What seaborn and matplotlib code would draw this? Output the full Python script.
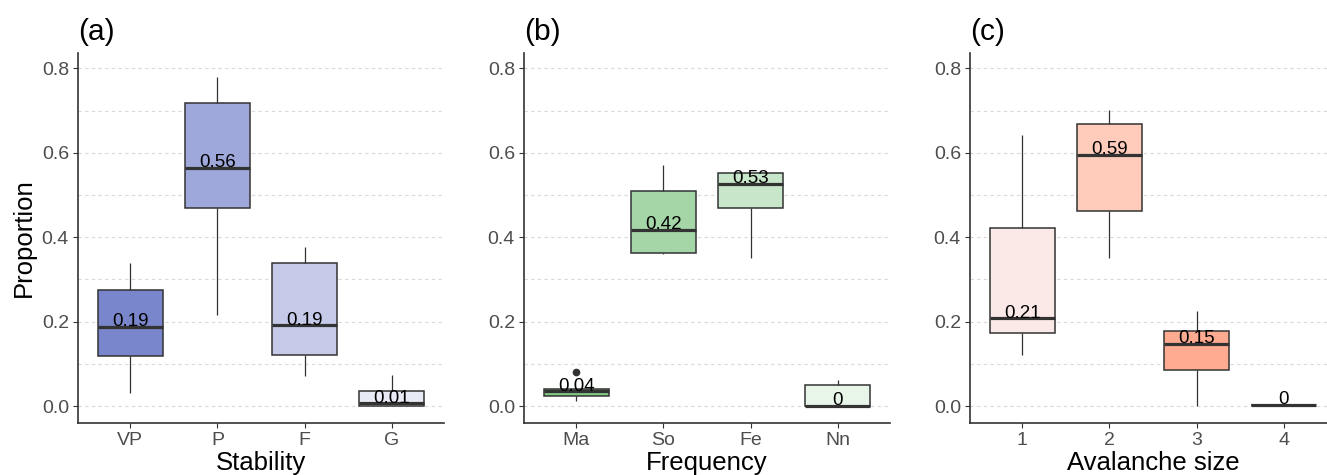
import numpy as np
import pandas as pd
import seaborn as sns
import matplotlib.pyplot as plt
from matplotlib.ticker import FixedLocator

sns.set_theme(style='white')
plt.rcParams['font.family'] = ['Liberation Sans', 'DejaVu Sans']

# ---- data: five observations per box (low, q1, median, q3, high) ----
stab_cats = ['VP', 'P', 'F', 'G']
stab_low = [0.030, 0.216, 0.071, 0.000]
stab_q1 = [0.118, 0.468, 0.122, 0.000]
stab_med = [0.187, 0.565, 0.191, 0.006]
stab_q3 = [0.274, 0.719, 0.340, 0.036]
stab_high = [0.338, 0.779, 0.376, 0.073]
stab_colors = ['#7986CB', '#9FA8DA', '#C5CAE9', '#E8EAF6']

freq_cats = ['Ma', 'So', 'Fe', 'Nn']
freq_low = [0.011, 0.359, 0.350, 0.000]
freq_q1 = [0.024, 0.363, 0.468, 0.000]
freq_med = [0.035, 0.418, 0.527, 0.000]
freq_q3 = [0.041, 0.509, 0.553, 0.049]
freq_high = [0.080, 0.570, 0.553, 0.062]
freq_colors = ['#81C784', '#A5D6A7', '#C8E6C9', '#E8F5E9']

size_cats = ['1', '2', '3', '4']
size_low = [0.122, 0.350, 0.000, 0.002]
size_q1 = [0.174, 0.463, 0.086, 0.002]
size_med = [0.208, 0.595, 0.147, 0.002]
size_q3 = [0.421, 0.667, 0.178, 0.002]
size_high = [0.643, 0.701, 0.225, 0.002]
size_colors = ['#FBE9E7', '#FFCCBC', '#FFAB91', '#FF8A65']

panels = [
    ('(a)', 'Stability', stab_cats, [stab_low, stab_q1, stab_med, stab_q3, stab_high], stab_colors),
    ('(b)', 'Frequency', freq_cats, [freq_low, freq_q1, freq_med, freq_q3, freq_high], freq_colors),
    ('(c)', 'Avalanche size', size_cats, [size_low, size_q1, size_med, size_q3, size_high], size_colors),
]

W, H = 1327, 475
fig = plt.figure(figsize=(W / 100, H / 100), dpi=100)
lefts = [78, 524, 970]
ax_w = 366
ax_top, ax_bot = 52.7, 422.7

edge = '#333333'
for (tag, xlabel, cats, stats, colors), lpx in zip(panels, lefts):
    ax = fig.add_axes([lpx / W, 1 - ax_bot / H, ax_w / W, (ax_bot - ax_top) / H])
    rows = []
    for i, c in enumerate(cats):
        for s in stats:
            rows.append({'cat': c, 'val': s[i]})
    df = pd.DataFrame(rows)
    ax.set_axisbelow(True)
    sns.boxplot(data=df, x='cat', y='val', hue='cat', order=cats, hue_order=cats,
                palette=colors, saturation=1, width=0.75, linewidth=1.1, linecolor=edge,
                showcaps=False, legend=False, ax=ax,
                medianprops=dict(color=edge, linewidth=2.3),
                whiskerprops=dict(color=edge, linewidth=0.9),
                flierprops=dict(marker='o', markerfacecolor=edge, markeredgecolor=edge,
                                markersize=4.5))
    meds = stats[2]
    for i, m in enumerate(meds):
        lab = f'{round(m, 2):g}'
        ax.annotate(lab, (i, m), xytext=(0, 0.5), textcoords='offset points',
                    ha='center', va='baseline', fontsize=13.5, color='black')
    ax.set_xlim(-0.6, 3.6)
    ax.set_ylim(-0.0395, 0.837)
    ax.yaxis.set_major_locator(FixedLocator([0, 0.2, 0.4, 0.6, 0.8]))
    ax.yaxis.set_minor_locator(FixedLocator([0.1, 0.3, 0.5, 0.7]))
    ax.set_yticklabels(['0.0', '0.2', '0.4', '0.6', '0.8'])
    ax.grid(axis='y', which='both', linestyle=(0, (3, 3)), color='#d9d9d9', linewidth=0.8)
    ax.grid(axis='x', visible=False)
    for sp in ['top', 'right']:
        ax.spines[sp].set_visible(False)
    for sp in ['left', 'bottom']:
        ax.spines[sp].set_color(edge)
        ax.spines[sp].set_linewidth(1.2)
    ax.tick_params(axis='both', which='major', length=3.5, width=0.8, color=edge,
                   labelsize=14, labelcolor='#4D4D4D', pad=3, left=True, bottom=True)
    ax.tick_params(axis='y', which='minor', length=0)
    ax.set_xlabel('')
    ax.set_ylabel('')
    fig.text(lpx / W, 1 - 40 / H, tag, fontsize=21.5, ha='left', va='baseline', color='black')
    fig.text((lpx + ax_w / 2) / W, 1 - 451 / H, xlabel, fontsize=18.5, ha='center', va='top',
             color='black')

fig.text(24 / W, 1 - 237.7 / H, 'Proportion', rotation=90, fontsize=18.5, ha='center',
         va='center', color='black')

fig.savefig('out.png', dpi=100, facecolor='white')
